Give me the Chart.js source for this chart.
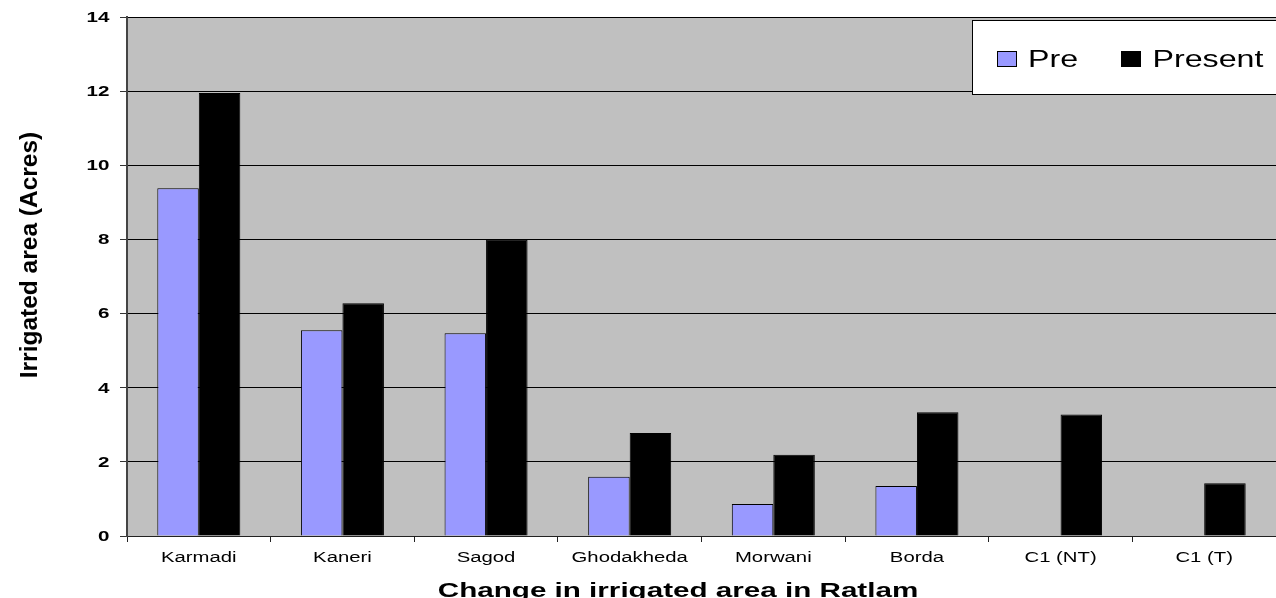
<!DOCTYPE html>
<html>
<head>
<meta charset="utf-8">
<style>
  html, body { margin: 0; padding: 0; background: #ffffff; }
  #wrap { width: 1276px; height: 598px; position: relative; }
</style>
<script src="https://cdn.jsdelivr.net/npm/chart.js@4/dist/chart.umd.min.js"></script>
</head>
<body>
<div id="wrap"><canvas id="c" width="1276" height="598"></canvas></div>
<script>
const categories = ['Karmadi', 'Kaneri', 'Sagod', 'Ghodakheda', 'Morwani', 'Borda', 'C1 (NT)', 'C1 (T)'];
const preValues = [9.38, 5.55, 5.47, 1.60, 0.86, 1.35, null, null];
const presentValues = [11.95, 6.28, 7.99, 2.78, 2.19, 3.34, 3.28, 1.42];
const seriesNames = ['Pre', 'Present'];
const yTicks = [0, 2, 4, 6, 8, 10, 12, 14];
const xTitle = 'Change in irrigated area in Ratlam';
const yTitle = 'Irrigated area (Acres)';

const FONT = '"Liberation Sans", Arial, sans-serif';

// Draw text widened horizontally by factor sx
function wideText(ctx, text, x, y, font, sx, align, baseline) {
  ctx.save();
  ctx.translate(x, y);
  ctx.scale(sx, 1);
  ctx.font = font;
  ctx.textAlign = align;
  ctx.textBaseline = baseline;
  ctx.fillStyle = '#000';
  ctx.fillText(text, 0, 0);
  ctx.restore();
}

// Gray plot background
const plotBackground = {
  id: 'plotBackground',
  beforeDraw(chart) {
    const { ctx, chartArea: a } = chart;
    ctx.save();
    ctx.fillStyle = '#C0C0C0';
    ctx.fillRect(a.left, a.top, a.right - a.left, a.bottom - a.top);
    ctx.restore();
  }
};

// Tick labels, axis titles and boxed legend
const decorations = {
  id: 'decorations',
  afterDraw(chart) {
    const { ctx } = chart;
    const xs = chart.scales.x, ys = chart.scales.y;

    categories.forEach((lab, i) => {
      wideText(ctx, lab, xs.getPixelForTick(i), 558, '14px ' + FONT, 1.45, 'center', 'middle');
    });
    yTicks.forEach(v => {
      wideText(ctx, String(v), 109.5, ys.getPixelForValue(v) + 1, 'bold 14px ' + FONT, 1.47, 'right', 'middle');
    });

    wideText(ctx, xTitle, 678, 597, 'bold 21px ' + FONT, 1.41, 'center', 'alphabetic');

    ctx.save();
    ctx.translate(30, 255);
    ctx.rotate(-Math.PI / 2);
    ctx.font = 'bold 24.5px ' + FONT;
    ctx.fillStyle = '#000';
    ctx.textAlign = 'center';
    ctx.textBaseline = 'middle';
    ctx.fillText(yTitle, 0, 0);
    ctx.restore();

    // legend box
    ctx.save();
    ctx.fillStyle = '#ffffff';
    ctx.fillRect(972.5, 20.5, 310, 74);
    ctx.strokeStyle = '#000';
    ctx.lineWidth = 1;
    ctx.strokeRect(972.5, 20.5, 310, 74);
    const boxX = [997.5, 1121.5];
    const textX = [1028, 1152.5];
    chart.data.datasets.forEach((ds, i) => {
      ctx.fillStyle = ds.backgroundColor;
      ctx.fillRect(boxX[i], 51.5, 19, 15);
      ctx.strokeStyle = '#000';
      ctx.strokeRect(boxX[i], 51.5, 19, 15);
      wideText(ctx, ds.label, textX[i], 66.5, '23px ' + FONT, 1.4, 'left', 'alphabetic');
    });
    ctx.restore();
  }
};

new Chart(document.getElementById('c'), {
  type: 'bar',
  data: {
    labels: categories,
    datasets: [
      {
        label: seriesNames[0],
        data: preValues,
        backgroundColor: '#9999FF',
        borderColor: '#000000',
        borderWidth: 1,
        categoryPercentage: 0.578,
        barPercentage: 1.0
      },
      {
        label: seriesNames[1],
        data: presentValues,
        backgroundColor: '#000000',
        borderColor: '#000000',
        borderWidth: 1,
        categoryPercentage: 0.578,
        barPercentage: 1.0
      }
    ]
  },
  options: {
    responsive: false,
    animation: false,
    layout: { padding: { top: 17, right: 0, left: 0, bottom: 0 } },
    plugins: {
      legend: { display: false },
      tooltip: { enabled: false },
      title: { display: false }
    },
    scales: {
      x: {
        offset: true,
        grid: {
          offset: true,
          drawOnChartArea: false,
          drawTicks: true,
          tickLength: 6,
          color: '#222'
        },
        border: { display: true, color: '#222', width: 1 },
        ticks: { display: false },
        afterFit(s) { s.height = 62; }
      },
      y: {
        min: 0,
        max: 14,
        afterBuildTicks(s) { s.ticks = yTicks.map(v => ({ value: v })); },
        grid: {
          color: '#000',
          lineWidth: 1,
          drawTicks: true,
          tickLength: 7,
          tickColor: '#333'
        },
        border: { display: true, color: '#444', width: 2 },
        ticks: { display: false },
        afterFit(s) { s.width = 127; }
      }
    }
  },
  plugins: [plotBackground, decorations]
});
</script>
</body>
</html>
